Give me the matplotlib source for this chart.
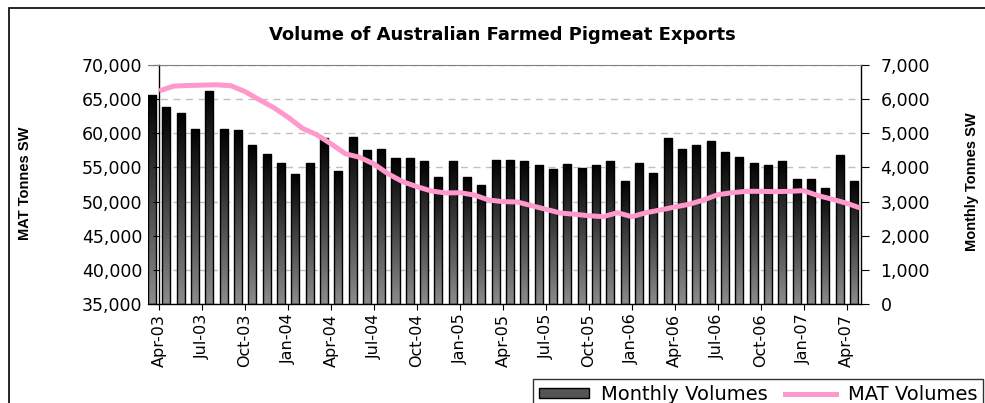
import numpy as np
import matplotlib.pyplot as plt
from matplotlib.colors import LinearSegmentedColormap
from matplotlib.patches import Rectangle, Patch
from matplotlib.lines import Line2D

# monthly export volumes (right axis, tonnes SW), Apr-03 .. May-07
monthly = [6120, 5760, 5590, 5140, 6250, 5140, 5100, 4660, 4380, 4140,
           3800, 4140, 4850, 3910, 4900, 4510, 4550, 4270, 4270, 4190,
           3710, 4190, 3710, 3480, 4230, 4230, 4190, 4060, 3950, 4100,
           3990, 4060, 4190, 3590, 4140, 3830, 4850, 4540, 4660, 4780,
           4460, 4300, 4140, 4060, 4190, 3670, 3670, 3400, 4350, 3590]

# moving annual total (left axis, tonnes SW)
mat = [66200, 66900, 67000, 67050, 67100, 66970, 66100, 64900, 63750, 62350,
       60730, 59800, 58450, 57000, 56480, 55500, 54040, 52910, 52180, 51550,
       51260, 51300, 50960, 50230, 49990, 49940, 49400, 48870, 48330, 48140,
       47930, 47790, 48370, 47790, 48370, 48770, 49210, 49600, 50230, 51010,
       51300, 51500, 51500, 51450, 51500, 51600, 50870, 50340, 49750, 49020]

tick_labels = ["Apr-03", "Jul-03", "Oct-03", "Jan-04", "Apr-04", "Jul-04",
               "Oct-04", "Jan-05", "Apr-05", "Jul-05", "Oct-05", "Jan-06",
               "Apr-06", "Jul-06", "Oct-06", "Jan-07", "Apr-07"]

x = np.arange(len(monthly))

fig = plt.figure(figsize=(9.85, 4.03), dpi=100)
ax = fig.add_axes([148/985, 1-304/403, (861-148)/985, (304-65)/403])
ax2 = ax.twinx()

# bars on the right axis, shifted half a month left like the Excel original
bar_w = 0.56
bars = ax2.bar(x - 0.5, monthly, width=bar_w, facecolor='none',
               edgecolor='black', linewidth=1.0, zorder=3)
cmap = LinearSegmentedColormap.from_list('g', ['#000000', '#8c8c8c'])
grad = np.linspace(0, 1, 256).reshape(-1, 1)
for b in bars:
    x0, w, h = b.get_x(), b.get_width(), b.get_height()
    im = ax2.imshow(grad, cmap=cmap, extent=(x0, x0 + w, 0, h),
                    aspect='auto', origin='upper', zorder=2.5)
    im.set_clip_path(b)

ax2.set_ylim(0, 7000)
ax2.set_yticks(np.arange(0, 7001, 1000))
ax2.set_yticklabels([f"{v:,}" for v in range(0, 7001, 1000)])
ax2.yaxis.grid(True, linestyle=(0, (5, 4)), color='#c0c0c0', linewidth=1)
ax2.set_axisbelow(True)

ax.plot(x, mat, color='#ff99cc', linewidth=3.6, solid_capstyle='butt', zorder=5)
ax.set_ylim(35000, 70000)
ax.set_yticks(np.arange(35000, 70001, 5000))
ax.set_yticklabels([f"{v:,}" for v in range(35000, 70001, 5000)])
ax.set_xlim(-0.78, 49.0)
ax2.set_xlim(-0.78, 49.0)
ax.set_xticks(x[::3])
ax.set_xticklabels(tick_labels, rotation=90)

ax.set_zorder(ax2.get_zorder() + 1)
ax.patch.set_visible(False)

for s in ['left', 'top', 'bottom']:
    ax2.spines[s].set_visible(False)
ax.spines['right'].set_visible(False)
ax.spines['top'].set_color('#808080')
ax.spines['left'].set_position(('data', 0))
for sp in [ax.spines['left'], ax.spines['bottom'], ax2.spines['right']]:
    sp.set_color('black')
    sp.set_linewidth(1.0)

ax.tick_params(axis='y', direction='out', length=4, pad=8, labelsize=12.5)
ax.tick_params(axis='x', direction='out', length=4, pad=3, labelsize=11.5)
ax2.tick_params(axis='y', direction='out', length=6, pad=8, labelsize=12.5)

fig.text(502/985, 1-35/403, "Volume of Australian Farmed Pigmeat Exports",
         ha='center', va='center', fontsize=13, fontweight='bold')
fig.text(25/985, 1-183/403, "MAT Tonnes SW", rotation=90, ha='center',
         va='center', fontsize=10.5, fontweight='bold',
         family='Liberation Sans')
fig.text(972/985, 1-182/403, "Monthly Tonnes SW", rotation=90, ha='center',
         va='center', fontsize=10.5, fontweight='bold',
         family='Liberation Sans')

# outer chart frame (cut off at right and bottom like the source)
fig.add_artist(Rectangle((9/985, -0.2), 1.2, 1.2 - 7.5/403,
                         transform=fig.transFigure, fill=False,
                         edgecolor='black', linewidth=1.2, clip_on=False))

handles = [Patch(facecolor='#555555', edgecolor='black'),
           Line2D([], [], color='#ff99cc', linewidth=3.6)]
leg = fig.legend(handles, ["Monthly Volumes", "MAT Volumes"], ncol=2,
                 loc='upper left', bbox_to_anchor=(533/985, 1-379/403),
                 frameon=True, fancybox=False, fontsize=14,
                 handlelength=2.6, handleheight=0.4, columnspacing=0.9,
                 borderpad=0.3, handletextpad=0.6, borderaxespad=0)
leg.get_frame().set_edgecolor('black')
leg.get_frame().set_linewidth(1.0)

fig.savefig('out.png', dpi=100)
